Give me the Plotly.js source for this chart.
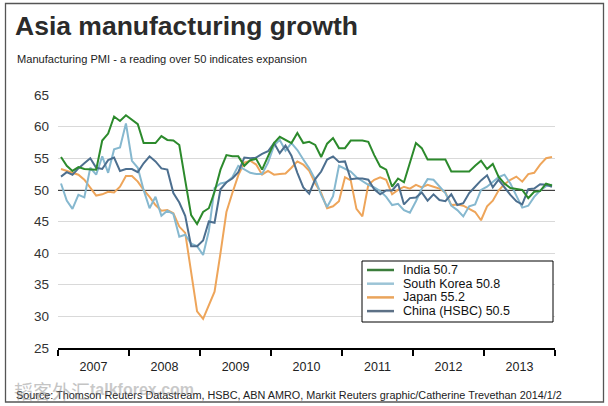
<!DOCTYPE html>
<html>
<head>
<meta charset="utf-8">
<script src="https://cdn.plot.ly/plotly-3.0.1.min.js"></script>
<style>
html,body{margin:0;padding:0;background:#fff;}
#chart{width:608px;height:406px;}
</style>
</head>
<body>
<div id="chart"></div>
<script>
// ---- data (monthly, Jan 2007 .. Dec 2013) ----
const firstYear = 2007;
const lastYear = 2013;
const seriesNames = ['India', 'South Korea', 'Japan', 'China (HSBC)'];

const india = [
  55.2, 53.8, 53.0, 53.6, 53.3, 53.3, 53.2, 57.8, 58.9, 61.6, 60.9, 61.8,
  61.1, 60.4, 57.4, 57.4, 57.4, 58.5, 57.9, 57.8, 57.1, 51.5, 46.0, 44.6,
  46.5, 47.1, 49.7, 53.2, 55.5, 55.3, 55.3, 53.8, 54.7, 54.9, 53.2, 55.3,
  57.4, 58.4, 57.9, 57.4, 59.0, 57.4, 57.6, 57.1, 55.2, 57.3, 58.2, 56.6,
  56.6, 57.8, 57.8, 57.8, 57.6, 55.5, 53.7, 53.2, 50.5, 51.8, 51.2, 54.1,
  57.4, 56.6, 54.8, 54.8, 54.8, 54.8, 52.9, 52.9, 52.9, 52.9, 53.8, 54.6,
  53.3, 54.1, 52.1, 51.0, 50.3, 50.1, 50.0, 48.7, 49.7, 49.8, 51.0, 50.7
];
const korea = [
  51.0, 48.3, 47.0, 49.2, 48.8, 53.5, 52.4, 55.3, 52.7, 56.4, 56.7, 60.5,
  54.6, 53.5, 50.0, 47.1, 48.9, 45.9, 46.7, 46.2, 42.6, 42.9, 41.5, 41.1,
  39.7, 43.5, 50.3, 51.0, 51.2, 52.0, 53.8, 53.3, 52.7, 52.5, 52.5, 54.3,
  57.0, 57.9, 56.2, 57.4, 56.3, 54.8, 53.4, 51.6, 49.2, 47.3, 49.0, 53.8,
  53.3, 52.9, 52.0, 51.4, 50.8, 50.4, 49.8, 48.9, 47.6, 47.8, 46.8, 46.4,
  48.2, 50.2, 51.7, 51.6, 50.5, 49.5, 47.5, 46.8, 45.8, 47.4, 47.7, 50.0,
  50.5, 51.3, 52.0, 52.4, 51.0, 49.1, 47.2, 47.5, 48.9, 49.9, 50.6, 50.8
];
const japan = [
  53.3, 53.0, 52.6, 52.4, 51.6, 50.3, 49.1, 49.3, 49.7, 49.6, 50.5, 52.2,
  52.2, 51.3, 50.0, 48.9, 47.6, 46.7, 46.8, 46.3, 44.2, 43.2, 36.8, 30.8,
  29.6, 31.8, 33.9, 40.0, 46.5, 49.5, 52.3, 54.3, 54.6, 54.0, 52.4, 53.0,
  52.4, 52.5, 52.6, 53.5, 54.5, 54.0, 53.0, 51.0, 49.5, 47.1, 47.4, 48.2,
  52.0, 51.5, 47.0, 45.8, 50.8, 51.6, 52.0, 51.6, 49.3, 50.0, 50.5, 50.2,
  50.8, 50.4, 50.8, 50.5, 50.2, 49.6, 47.6, 47.7, 47.5, 47.0, 46.5, 45.2,
  47.4, 48.3, 49.9, 50.9, 51.6, 52.1, 51.3, 52.5, 52.7, 54.0, 55.0, 55.2
];
const china = [
  52.1, 52.8, 52.4, 53.4, 54.2, 55.0, 53.5, 53.3, 54.7, 55.1, 53.0, 53.3,
  53.3, 52.8, 54.2, 55.3, 54.5, 53.4, 53.2, 49.5, 48.0, 45.9, 41.1, 41.1,
  42.0, 45.0, 44.8, 50.1, 51.2, 51.8, 52.8, 55.1, 55.0, 55.1, 55.7, 56.1,
  57.4, 55.8, 57.0, 55.4, 52.7, 50.4, 49.4, 51.7, 52.9, 54.8, 55.3, 54.4,
  54.5, 51.7, 51.8, 51.8, 51.6, 50.1, 49.3, 49.9, 49.9, 51.0, 47.7, 48.7,
  48.8, 49.6, 48.3, 49.3, 48.4, 48.2, 49.3, 47.6, 47.9, 49.5, 50.5, 51.5,
  52.3, 50.4, 51.6, 50.4, 49.2, 48.2, 47.7, 50.1, 50.2, 50.9, 50.8, 50.5
];
const yTicks = [25, 30, 35, 40, 45, 50, 55, 60, 65];
const threshold = 50;

// ---- styles ----
const colors = ['#2c8a2c', '#86b8cf', '#eea55a', '#4d6f8f'];
const legendColors = ['#3b7d3b', '#9cc4d6', '#eaa45c', '#5d7186'];
const seriesData = [india, korea, japan, china];

const months = [];
for (let y = firstYear; y <= lastYear; y++) {
  for (let m = 1; m <= 12; m++) months.push(y + '-' + String(m).padStart(2, '0'));
}

// plot area in pixels
const W = 608, H = 406;
const L = 58, R = 555, T = 95, B = 348;
const pw = R - L, ph = B - T;
const px = x => (x - L) / pw;
const py = y => (B - y) / ph;

const drawOrder = [2, 1, 3, 0];
const traces = drawOrder.map(i => ({
  type: 'scatter', mode: 'lines',
  x: months, y: seriesData[i],
  xperiod: 'M1', xperiodalignment: 'middle',
  name: seriesNames[i],
  line: {color: colors[i], width: 2},
  hoverinfo: 'skip', showlegend: false
}));

const FONT = '"Liberation Sans", Arial, sans-serif';

const shapes = [
  // threshold line
  {type: 'line', xref: 'paper', yref: 'y', x0: 0, x1: 1, y0: threshold, y1: threshold,
   line: {color: '#000', width: 1.5}, layer: 'below'},
  // legend box
  {type: 'rect', xref: 'paper', yref: 'paper', x0: px(362), x1: px(553), y0: py(322), y1: py(261),
   line: {color: '#000', width: 1}, fillcolor: '#fff', layer: 'above'},
  // outer frame
  {type: 'rect', xref: 'paper', yref: 'paper', x0: px(5.5), x1: px(603.5), y0: py(402), y1: py(3.5),
   line: {color: '#555', width: 1.3}, layer: 'above'}
];
const annotations = [
  {xref: 'paper', yref: 'paper', x: px(15), y: py(59), xanchor: 'left', yanchor: 'middle',
   text: 'Manufacturing PMI - a reading over 50 indicates expansion', showarrow: false,
   font: {family: FONT, size: 11.1, color: '#222'}},
  {xref: 'paper', yref: 'paper', x: px(14), y: py(395), xanchor: 'left', yanchor: 'middle',
   text: 'Source: Thomson Reuters Datastream, HSBC, ABN AMRO, Markit Reuters graphic/Catherine Trevethan 2014/1/2',
   showarrow: false, font: {family: FONT, size: 10.85, color: '#222'}},
  {xref: 'paper', yref: 'paper', x: px(12), y: py(390), xanchor: 'left', yanchor: 'middle',
   text: '韬客外汇', showarrow: false, opacity: 0.5,
   font: {family: '"Noto Sans CJK SC", sans-serif', size: 19, color: '#8a8a8a'}},
  {xref: 'paper', yref: 'paper', x: px(88), y: py(389), xanchor: 'left', yanchor: 'middle',
   text: '<b>talkforex.com</b>', showarrow: false, opacity: 0.45,
   font: {family: FONT, size: 16, color: '#8a8a8a'}}
];
// custom legend (names with latest reading)
seriesNames.forEach((n, i) => {
  const yc = 270 + i * 13.7;
  const vals = seriesData[i];
  shapes.push({type: 'line', xref: 'paper', yref: 'paper', x0: px(367), x1: px(394), y0: py(yc), y1: py(yc),
    line: {color: legendColors[i], width: 2.5}, layer: 'above'});
  annotations.push({xref: 'paper', yref: 'paper', x: px(401), y: py(yc), xanchor: 'left', yanchor: 'middle',
    text: n + ' ' + vals[vals.length - 1].toFixed(1), showarrow: false,
    font: {family: FONT, size: 12.5, color: '#111'}});
});

const layout = {
  width: W, height: H,
  margin: {l: L, r: W - R, t: T, b: H - B, pad: 0},
  paper_bgcolor: '#fff', plot_bgcolor: '#fff',
  showlegend: false,
  title: {text: '<b>Asia manufacturing growth</b>', xref: 'container', yref: 'container',
    x: 15 / W, xanchor: 'left', y: 1 - 26 / H, yanchor: 'middle',
    font: {family: FONT, size: 26.5, color: '#2b2b2b'}},
  xaxis: {
    type: 'date', range: [firstYear + '-01-01', (lastYear + 1) + '-01-01'],
    tick0: firstYear + '-01-01', dtick: 'M12', tickformat: '%Y', ticklabelmode: 'period',
    showgrid: false, zeroline: false,
    showline: true, linecolor: '#000', linewidth: 1.5,
    ticks: 'outside', ticklen: 6, tickwidth: 1.3, tickcolor: '#000',
    tickfont: {family: FONT, size: 12.5, color: '#222'}, fixedrange: true
  },
  yaxis: {
    range: [yTicks[0], yTicks[yTicks.length - 1]], tickvals: yTicks,
    showgrid: true, gridcolor: '#d9d9d9', gridwidth: 1,
    zeroline: false, showline: false, ticks: '',
    ticklabelstandoff: 8,
    tickfont: {family: FONT, size: 13.5, color: '#333'}, fixedrange: true
  },
  shapes: shapes,
  annotations: annotations
};

Plotly.newPlot('chart', traces, layout, {displayModeBar: false, staticPlot: true});
</script>
</body>
</html>
